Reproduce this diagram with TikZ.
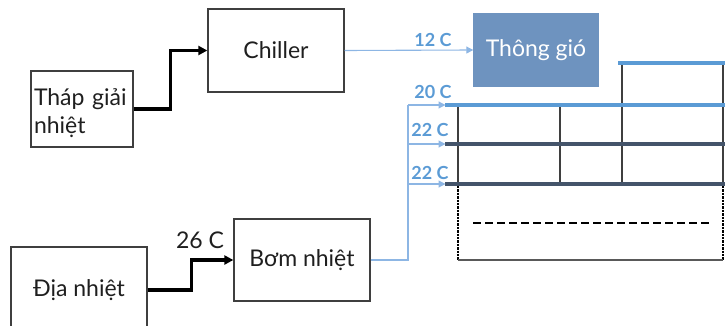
\documentclass[tikz,border=0pt]{standalone}
\usepackage{fontspec}
\setmainfont{Lato}
\usetikzlibrary{positioning,arrows.meta}
\definecolor{accentblue}{HTML}{5B9BD5}
\definecolor{lineblue}{HTML}{8DB6E4}
\definecolor{ventblue}{HTML}{6E93BF}
\definecolor{slate}{HTML}{44546A}
\definecolor{boxgray}{HTML}{3F3F3F}

\begin{document}
\begin{tikzpicture}[x=1pt, y=-1pt,
    unit/.style={draw=boxgray, line width=1.3pt, fill=white, text=black!88, font=\fontsize{23}{28}\selectfont, minimum width=136pt, minimum height=83pt, inner sep=3pt},
    vent/.style={fill=ventblue, text=white, font=\fontsize{23}{28}\selectfont, minimum width=126pt, minimum height=74pt},
    feed/.style={line width=3.2pt, -{Triangle[length=9pt,width=9pt]}},
    cool/.style={lineblue, line width=1.1pt},
    coolarrow/.style={cool, -{Triangle[length=7pt,width=7pt]}, shorten >=-0.5pt},
    templabel/.style={accentblue, font=\fontsize{18}{20}\selectfont\bfseries, inner sep=0pt},
    floorline/.style={line width=3.6pt},
    wall/.style={draw=boxgray, line width=1.3pt}
  ]
    \useasboundingbox (0,0) rectangle (725,326);

    % Plant units.
    \node[unit, minimum width=102pt, minimum height=76pt, text width=96pt, align=left, text depth=24pt] at (82,109) (tower) {Tháp giải\\nhiệt};
    \node[unit] at (276,50.5) (chiller) {Chiller};
    \node[vent] at (536,50) (vent) {Thông gió};
    \node[unit, minimum height=86pt] at (79,290) (geo) {Địa nhiệt};
    \node[unit, minimum height=82pt] at (302,260) (pump) {Bơm nhiệt};

    % Supply paths.
    \draw[feed] (tower.east) -- ++(37,0) |- (chiller.west);
    \draw[feed] (geo.east) -- ++(44,0) |- (pump.west);
    \node[font=\fontsize{23}{26}\selectfont, text=black!88, inner sep=0pt] at (200,240) (t26) {26 C};
    \draw[coolarrow] (chiller.east) -- (vent.west);
    \node[templabel] at (433,40) (t12) {12 C};

    % Building floors.
    \coordinate (f1) at (445,105);
    \coordinate (f2) at (445,144);
    \coordinate (f3) at (445,184);
    \coordinate (riser) at (408,105);
    \draw[wall] (458,105) -- (458,184);
    \draw[wall] (560,105) -- (560,184);
    \draw[wall] (622,63) -- (622,184);
    \draw[wall] (723,63) -- (723,184);
    \draw[floorline, accentblue] (618,63) -- (725,63);
    \draw[floorline, accentblue] (f1) -- (725,105);
    \draw[floorline, slate] (f2) -- (725,144);
    \draw[floorline, slate] (f3) -- (725,184);

    % Basement.
    \draw[line width=2.4pt, densely dotted] (458,186) -- (458,260);
    \draw[line width=2.4pt, densely dotted] (723,186) -- (723,260);
    \draw[line width=1.6pt, black!65] (458,260) -- (723,260);
    \draw[line width=2.6pt, dash pattern=on 8pt off 4pt] (473,223) -- (710,223);

    % Heat pump to floors.
    \draw[cool] (pump.east) -| (riser);
    \draw[coolarrow] (riser) -- (f1);
    \draw[coolarrow] (riser |- f2) -- (f2);
    \draw[coolarrow] (riser |- f3) -- (f3);
    \node[templabel] at (433,92) (t20) {20 C};
    \node[templabel] at (430,130) (t22a) {22 C};
    \node[templabel] at (430,173) (t22b) {22 C};
  \end{tikzpicture}
\end{document}
